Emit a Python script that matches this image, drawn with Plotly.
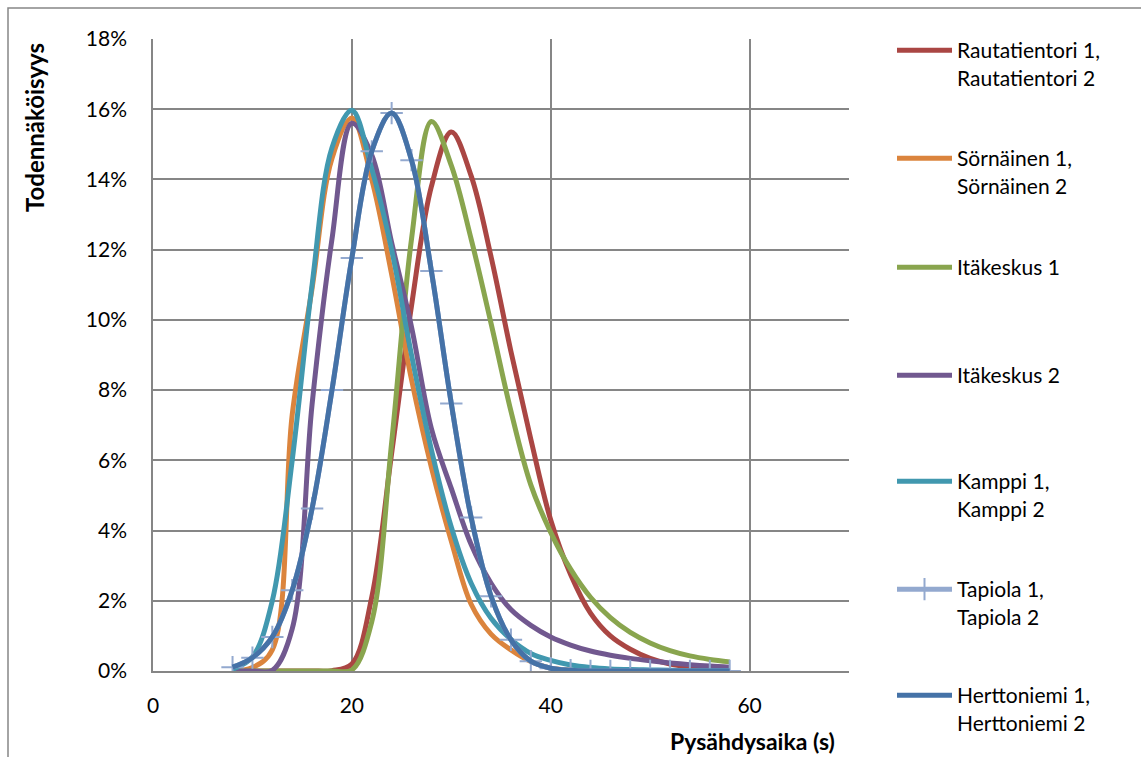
import plotly.graph_objects as go

# Pysähdysaika (s), sampled every 2 s
pysahdysaika = [8, 10, 12, 14, 16, 18, 20, 22, 24, 26, 28, 30, 32,
                34, 36, 38, 40, 42, 44, 46, 48, 50, 52, 54, 56, 58]

# Todennäköisyys (%) per station pair
rautatientori = [0, 0, 0, 0, 0, 0.01, 0.2, 2.1, 6.2, 10.4, 13.8, 15.35, 14.1,
                 11.8, 9.1, 6.6, 4.3, 2.75, 1.65, 1.0, 0.62, 0.36, 0.2, 0.11, 0.06, 0.03]
sornainen = [0, 0.1, 0.6, 7.3, 10.9, 14.6, 15.75, 14.0, 11.3, 8.3, 5.8, 3.7, 1.9,
             1.05, 0.6, 0.27, 0.08, 0.03, 0.01, 0, 0, 0, 0, 0, 0, 0]
itakeskus1 = [0, 0, 0, 0, 0, 0, 0.03, 1.4, 6.5, 12.3, 15.65, 14.4, 12.3,
              9.9, 7.4, 5.3, 3.95, 2.9, 2.1, 1.52, 1.1, 0.8, 0.58, 0.43, 0.33, 0.26]
itakeskus2 = [0, 0, 0.02, 1.2, 7.6, 12.3, 15.6, 14.7, 12.2, 9.8, 6.9, 5.2, 3.6,
              2.5, 1.75, 1.3, 0.97, 0.74, 0.57, 0.45, 0.36, 0.29, 0.23, 0.18, 0.14, 0.11]
kamppi = [0.05, 0.4, 2.0, 6.0, 11.0, 14.9, 15.97, 14.3, 12.0, 9.0, 6.3, 4.1, 2.5,
          1.5, 0.9, 0.5, 0.3, 0.17, 0.1, 0.06, 0.04, 0.03, 0.02, 0.01, 0.01, 0.01]
tapiola = [0.11, 0.38, 0.97, 2.3, 4.63, 8.0, 11.76, 14.8, 15.89, 14.55, 11.39, 7.62, 4.37,
           2.13, 0.89, 0.28, 0.08, 0.02, 0, 0, 0, 0, 0, 0, 0, 0]
herttoniemi = [0.11, 0.38, 0.97, 2.3, 4.63, 8.0, 11.76, 14.8, 15.89, 14.55, 11.39, 7.62, 4.37,
               2.13, 0.89, 0.28, 0.08, 0.02, 0, 0, 0, 0, 0, 0, 0, 0]

y_ticks = list(range(0, 19, 2))
y_tick_labels = [f"{v}%" for v in y_ticks]
x_ticks = [0, 20, 40, 60]

names = ["Rautatientori 1,<br>Rautatientori 2",
         "Sörnäinen 1,<br>Sörnäinen 2",
         "Itäkeskus 1",
         "Itäkeskus 2",
         "Kamppi 1,<br>Kamppi 2",
         "Tapiola 1,<br>Tapiola 2",
         "Herttoniemi 1,<br>Herttoniemi 2"]
colors = ["#AA4643", "#DB843D", "#89A54E", "#71588F", "#4198AF", "#93A9CF", "#4572A7"]
series = [rautatientori, sornainen, itakeskus1, itakeskus2, kamppi, tapiola, herttoniemi]

FONT = "Lato"
TXT = 21
W, H = 1141, 757
L, R, T, B = 153, 292, 39, 86
PW, PH = W - L - R, H - T - B


def px_x(p):
    return (p - L) / PW


def px_y(p):
    return (H - B - p) / PH


fig = go.Figure()
legend_tops = [30, 138, 247, 355, 461, 569, 675]
for i, (name, col, vals) in enumerate(zip(names, colors, series)):
    lg = "legend" if i == 0 else f"legend{i + 1}"
    is_marked = name.startswith("Tapiola")
    fig.add_trace(go.Scatter(
        x=pysahdysaika, y=vals, name=name,
        mode="lines+markers" if is_marked else "lines",
        line=dict(color=col, width=5, shape="spline", smoothing=1),
        marker=dict(symbol="cross-thin", size=16, line=dict(color=col, width=2)) if is_marked else None,
        legend=lg, showlegend=True,
    ))

legend_common = dict(
    xanchor="left", yanchor="top", valign="top",
    font=dict(family=FONT, size=TXT, color="#000000"),
    bgcolor="rgba(0,0,0,0)", borderwidth=0, itemwidth=55,
)
layout_legends = {}
for i, top in enumerate(legend_tops):
    key = "legend" if i == 0 else f"legend{i + 1}"
    layout_legends[key] = dict(x=px_x(892), y=px_y(top), **legend_common)

grid = "#868686"
fig.update_layout(
    width=W, height=H,
    margin=dict(l=L, r=R, t=T, b=B, pad=0),
    paper_bgcolor="white", plot_bgcolor="white",
    font=dict(family=FONT, size=TXT, color="#000000"),
    xaxis=dict(range=[0, 70], tickvals=x_ticks, showgrid=True,
               gridcolor=grid, gridwidth=1.5, showline=True, linecolor=grid, linewidth=1.5,
               zeroline=False, ticks="", ticklabelstandoff=15,
               tickfont=dict(family=FONT, size=TXT)),
    yaxis=dict(range=[0, 18], tickmode="array", tickvals=y_ticks, ticktext=y_tick_labels,
               showgrid=True, gridcolor=grid, gridwidth=1.5, showline=True,
               linecolor=grid, linewidth=1.5, zeroline=False, ticks="",
               ticklabelstandoff=20, tickfont=dict(family=FONT, size=TXT)),
    annotations=[
        dict(text="<b>Todennäköisyys</b>", xref="paper", yref="paper",
             x=px_x(35), y=px_y(128), textangle=-90, showarrow=False,
             xanchor="center", yanchor="middle", font=dict(family=FONT, size=24)),
        dict(text="<b>Pysähdysaika (s)</b>", xref="paper", yref="paper",
             x=px_x(752), y=px_y(741), showarrow=False,
             xanchor="center", yanchor="middle", font=dict(family=FONT, size=23)),
    ],
    shapes=[
        dict(type="rect", xref="paper", yref="paper",
             x0=px_x(8), y0=px_y(H + 20), x1=px_x(W + 20), y1=px_y(8),
             line=dict(color=grid, width=1.5), fillcolor="rgba(0,0,0,0)", layer="below"),
    ],
    **layout_legends,
)

fig.write_html("out.html")
